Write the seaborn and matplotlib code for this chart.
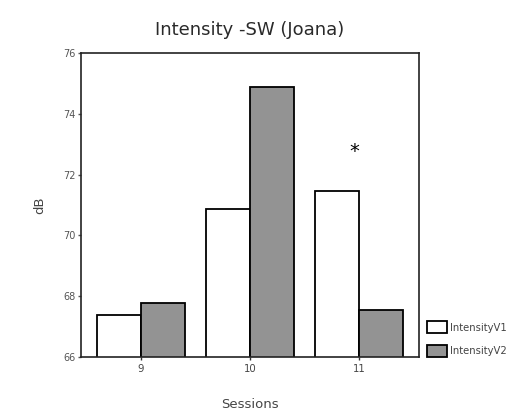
import matplotlib
matplotlib.use("Agg")
import matplotlib.pyplot as plt
import seaborn as sns
import pandas as pd

sessions = ["9", "10", "11"]
intensity_v1 = [67.38, 70.88, 71.47]
intensity_v2 = [67.78, 74.87, 67.53]
series_names = ["IntensityV1", "IntensityV2"]
title = "Intensity -SW (Joana)"
star_session_index = 2
star_value = 72.75

df = pd.DataFrame({
    "Sessions": sessions * 2,
    "dB": intensity_v1 + intensity_v2,
    "series": [series_names[0]] * 3 + [series_names[1]] * 3,
})

sns.set_style("white")
plt.rcParams["font.family"] = ["DejaVu Sans"]

fig = plt.figure(figsize=(5.11, 4.15), dpi=100)
ax = fig.add_axes([0.1585, 0.1398, 0.6615, 0.7325])

sns.barplot(data=df, x="Sessions", y="dB", hue="series", order=sessions,
            palette=["white", "#939393"], edgecolor="black", linewidth=1.3,
            width=0.8, ax=ax, saturation=1)

ax.set_ylim(66, 76)
ax.set_xlim(-0.55, 2.55)
ax.set_yticks([66, 68, 70, 72, 74, 76])
ax.tick_params(axis="y", direction="out", length=2, width=1, color="#555555",
               labelsize=7, labelcolor="#555555", pad=2, left=True)
ax.tick_params(axis="x", direction="out", length=2, width=1, color="#333333",
               labelsize=7.3, labelcolor="#444444", pad=3, bottom=True)
for s in ax.spines.values():
    s.set_color("#222222")
    s.set_linewidth(1.2)

ax.set_title(title, fontsize=13, color="#2a2a2a", pad=13)
ax.set_ylabel("dB", fontsize=9.5, color="#444444", labelpad=12)
ax.set_xlabel("Sessions", fontsize=9.5, color="#444444", labelpad=17)

ax.text(star_session_index - 0.04, star_value, "*", fontsize=14, ha="center",
        va="center", color="black")

leg = ax.legend(loc="lower left", bbox_to_anchor=(1.012, -0.012), frameon=False,
                fontsize=7.2, handlelength=2.0, handleheight=1.45,
                labelspacing=1.15, handletextpad=0.3, borderaxespad=0)
for t in leg.get_texts():
    t.set_color("#444444")

fig.savefig("out.png", dpi=100)
